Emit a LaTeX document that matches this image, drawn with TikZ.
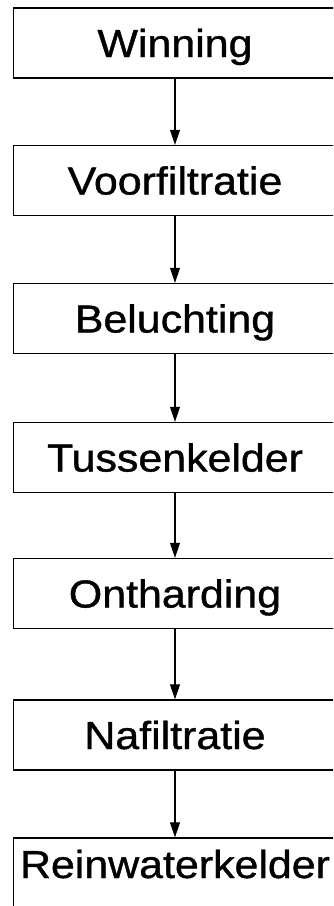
\documentclass[tikz,border=0pt]{standalone}
\usepackage{fontspec}
\usetikzlibrary{arrows.meta}
\newfontfamily\boxfont[FakeStretch=1.1,FakeBold=1]{Liberation Sans}
\begin{document}
\begin{tikzpicture}[x=1pt,y=-1pt,
  stagebox/.style={draw=black, line width=1.4pt, minimum width=323pt,
    minimum height=70pt, inner sep=0pt, text height=28pt, text depth=0pt,
    font=\boxfont\fontsize{39}{39}\selectfont},
  flow/.style={line width=1.1pt, -{Triangle[length=15pt,width=10pt]}}]
  \useasboundingbox (0,0) rectangle (333,906);
  \clip (0,0) rectangle (333,906);
  % treatment stages, top to bottom
  \node[stagebox] (s1) at (175,43)    {Winning};
  \node[stagebox] (s2) at (175,180.5) {Voorfiltratie};
  \node[stagebox] (s3) at (175,318.5) {Beluchting};
  \node[stagebox] (s4) at (175,457.5) {Tussenkelder};
  \node[stagebox] (s5) at (175,593.5) {Ontharding};
  \node[stagebox] (s6) at (175,735)   {Nafiltratie};
  \node[stagebox, text depth=18pt] (s7) at (175,873) {Reinwaterkelder};
  % flow between stages
  \foreach \a/\b in {s1/s2,s2/s3,s3/s4,s4/s5,s5/s6,s6/s7}
    \draw[flow] (\a.south) -- (\b.north);
\end{tikzpicture}
\end{document}
